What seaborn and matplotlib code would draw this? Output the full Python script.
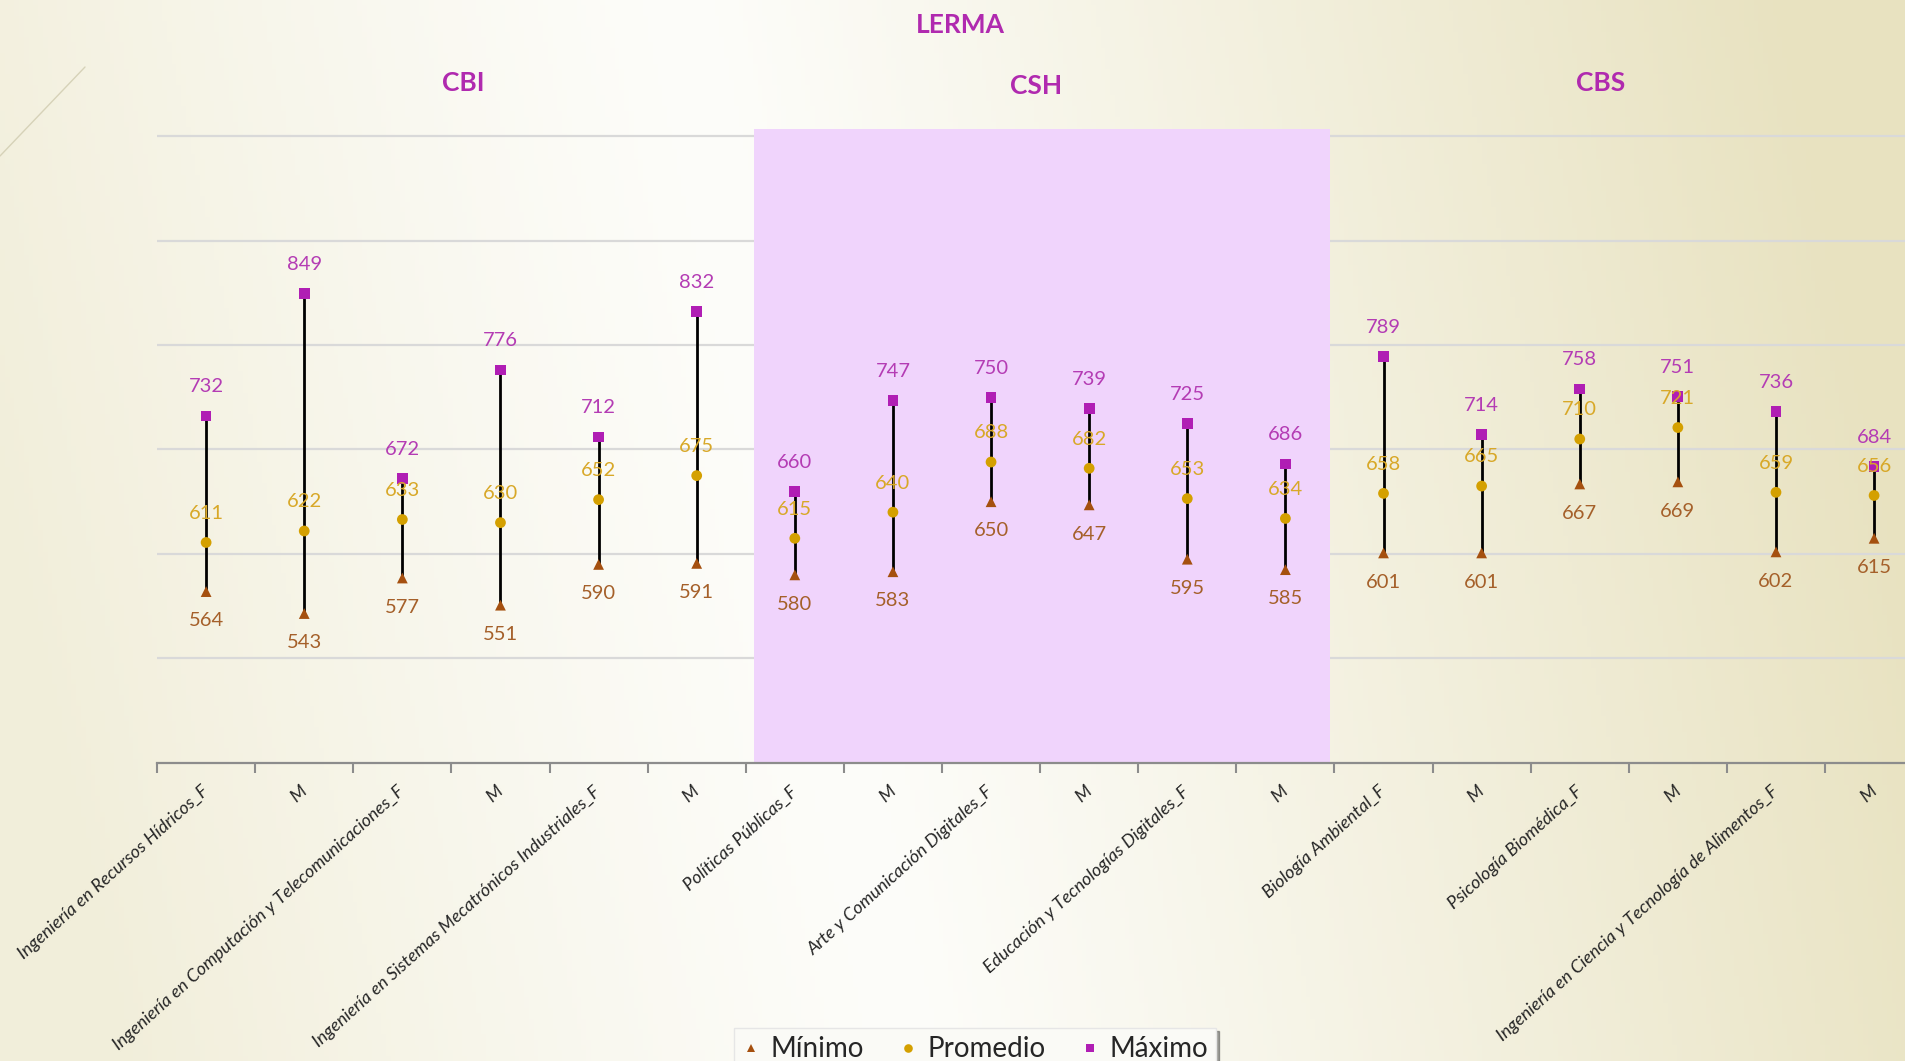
import numpy as np
import pandas as pd
import matplotlib
matplotlib.use('Agg')
import matplotlib.pyplot as plt
import seaborn as sns
from matplotlib.lines import Line2D

sns.set_theme(style='white')
plt.rcParams['font.family'] = ['Lato', 'DejaVu Sans']

# datos
categorias = ['Ingeniería en Recursos Hídricos_F', 'M',
              'Ingeniería en Computación y Telecomunicaciones_F', 'M',
              'Ingeniería en Sistemas Mecatrónicos Industriales_F', 'M',
              'Políticas Públicas_F', 'M',
              'Arte y Comunicación Digitales_F', 'M',
              'Educación y Tecnologías Digitales_F', 'M',
              'Biología Ambiental_F', 'M',
              'Psicología Biomédica_F', 'M',
              'Ingeniería en Ciencia y Tecnología de Alimentos_F', 'M']
minimo = [564, 543, 577, 551, 590, 591, 580, 583, 650, 647, 595, 585, 601, 601, 667, 669, 602, 615]
promedio = [611, 622, 633, 630, 652, 675, 615, 640, 688, 682, 653, 634, 658, 665, 710, 721, 659, 656]
maximo = [732, 849, 672, 776, 712, 832, 660, 747, 750, 739, 725, 686, 789, 714, 758, 751, 736, 684]
divisiones = ['CBI', 'CSH', 'CBS']

col_min, col_prom, col_max = '#A5500F', '#D4A000', '#B01EB4'
lab_min, lab_prom, lab_max = '#A5602A', '#D8A828', '#B43CB4'

x = np.arange(len(categorias))
df = pd.DataFrame({'x': np.tile(x, 3),
                   'valor': minimo + promedio + maximo,
                   'serie': ['Mínimo'] * len(x) + ['Promedio'] * len(x) + ['Máximo'] * len(x)})

fig = plt.figure(figsize=(19.06, 10.61), dpi=100)

# fondo degradado
H, W = 200, 400
u = np.linspace(0, 1, W)[None, :]
r = np.linspace(0, 1, H)[:, None]
p = u + 0.12 * (0.5 - r)
a = np.where(p < 0.42, 0.55 * np.clip((0.42 - p) / 0.42, 0, 1) ** 1.2,
             np.clip((p - 0.42) / 0.58, 0, 1) ** 1.1)
blanco = np.array([253, 253, 250]) / 255
beige = np.array([232, 226, 192]) / 255
grad = blanco[None, None, :] * (1 - a[..., None]) + beige[None, None, :] * a[..., None]
bg = fig.add_axes([0, 0, 1, 1], zorder=-1)
bg.imshow(grad, aspect='auto', extent=[0, 1, 0, 1])
bg.axis('off')
fig.add_artist(Line2D([0, 85 / 1906], [1 - 156 / 1061, 1 - 67 / 1061],
                      transform=fig.transFigure, color='#D6D2B8', lw=1))

ax = fig.add_axes([0.0824, 0.2809, 0.9266, 0.5975])
ax.patch.set_alpha(0)

ax.axvspan(5.58, 11.45, color='#F0D4FC', zorder=1, lw=0)
ax.vlines(x, minimo, maximo, color='black', lw=2, zorder=2)
sns.scatterplot(data=df, x='x', y='valor', hue='serie', style='serie',
                palette={'Mínimo': col_min, 'Promedio': col_prom, 'Máximo': col_max},
                markers={'Mínimo': '^', 'Promedio': 'o', 'Máximo': 's'},
                s=60, linewidth=0, ax=ax, zorder=3)
handles, labels = ax.get_legend_handles_labels()
ax.get_legend().remove()

for xi, v in zip(x, maximo):
    ax.annotate(str(v), (xi, v), xytext=(0, 21), textcoords='offset points',
                ha='center', va='center', color=lab_max, fontsize=14.5)
for xi, v in zip(x, promedio):
    ax.annotate(str(v), (xi, v), xytext=(0, 21), textcoords='offset points',
                ha='center', va='center', color=lab_prom, fontsize=14.5)
for xi, v in zip(x, minimo):
    ax.annotate(str(v), (xi, v), xytext=(0, -21), textcoords='offset points',
                ha='center', va='center', color=lab_min, fontsize=14.5)

ax.set_xlim(-0.5, len(x) - 0.5)
ax.set_ylim(400, 1006.7)
ax.set_yticks([500, 600, 700, 800, 900, 1000])
ax.set_yticklabels([])
ax.yaxis.grid(True, color='#D9D9D9', lw=1.6)
ax.xaxis.grid(False)
ax.tick_params(axis='y', length=0)
for s in ['left', 'right', 'top']:
    ax.spines[s].set_visible(False)
ax.spines['bottom'].set_color('#8C8C8C')
ax.spines['bottom'].set_linewidth(1.6)

ax.set_xticks(x)
ax.set_xticklabels(categorias, rotation=42, ha='right', va='center',
                   rotation_mode='anchor', fontstyle='italic', fontsize=13, color='#262626')
ax.set_xticks(np.arange(-0.5, len(x), 1), minor=True)
ax.tick_params(axis='x', which='major', length=0, pad=19)
ax.tick_params(axis='x', which='minor', length=7, width=1.5, color='#8C8C8C', direction='out', bottom=True)
ax.set_xlabel('')
ax.set_ylabel('')

fig.text(960 / 1906, 1 - 25 / 1061, 'LERMA', ha='center', va='center',
         fontsize=19, fontweight='bold', color='#B02AAF')
for txt, px, py in zip(divisiones, [463, 1036, 1601], [83, 86, 83]):
    fig.text(px / 1906, 1 - py / 1061, txt, ha='center', va='center',
             fontsize=19, fontweight='bold', color='#B02AAF')

fig.legend(handles, labels, loc='upper center', bbox_to_anchor=(0.5117, 0.031),
           ncol=3, fontsize=20, frameon=True, fancybox=False, shadow=True,
           framealpha=1, facecolor='#FAFAF6', edgecolor='#E6E6E6', borderaxespad=0,
           handlelength=0.6, handletextpad=0.4, columnspacing=1.3,
           markerscale=0.8, borderpad=0.3)

fig.savefig('out.png', dpi=100)
